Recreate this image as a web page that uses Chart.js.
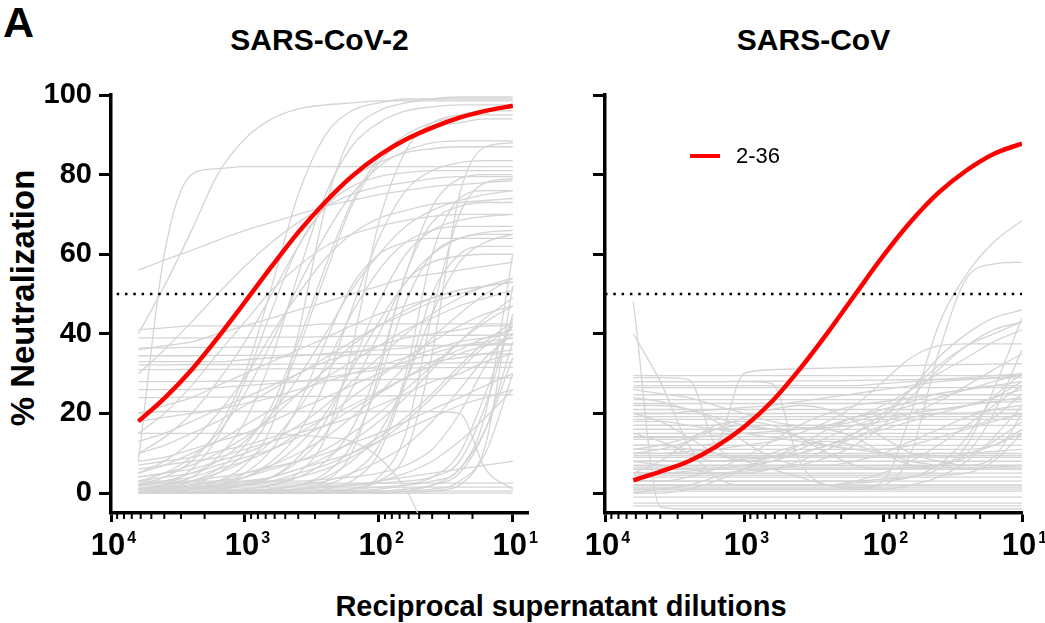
<!DOCTYPE html>
<html>
<head>
<meta charset="utf-8">
<script src="https://cdn.jsdelivr.net/npm/chart.js@4.4.1/dist/chart.umd.min.js"></script>
<style>
  body { margin: 0; background: #fff; width: 1045px; height: 623px; overflow: hidden; position: relative;
         font-family: "Liberation Sans", Arial, sans-serif; }
  canvas { position: absolute; top: 0; }
  .txt { position: absolute; font-weight: bold; color: #000; white-space: nowrap; }
</style>
</head>
<body>
<div class="txt" style="left:3px;top:1px;font-size:43px;line-height:43px;">A</div>
<div class="txt" style="left:111px;top:25px;width:417px;text-align:center;font-size:30px;line-height:30px;">SARS-CoV-2</div>
<div class="txt" style="left:605px;top:25px;width:417px;text-align:center;font-size:30px;line-height:30px;">SARS-CoV</div>
<div class="txt" style="left:22px;top:298px;font-size:33px;line-height:33px;transform:translate(-50%,-50%) rotate(-90deg);">% Neutralization</div>
<div class="txt" style="left:561px;top:592px;font-size:29px;line-height:29px;transform:translateX(-50%);">Reciprocal supernatant dilutions</div>
<canvas id="left" width="540" height="623" style="left:0"></canvas>
<canvas id="right" width="505" height="623" style="left:540px"></canvas>
<script>
// dilution series shared by every curve (reciprocal dilution)
var dilutions = [6250, 4000, 2500, 1600, 1000, 630, 400, 250, 160, 100, 63, 40, 25, 16, 10];
var xTicks = [10000, 1000, 100, 10];
var yTicks = [0, 20, 40, 60, 80, 100];
var cutoff = 50;

// highlighted sample 2-36
var cov2Red = [18, 23.8, 31, 39, 48, 57, 65.5, 73.2, 79.5, 84.8, 88.8, 91.8, 94.3, 96, 97.3];
var covRed = [3.2, 5.4, 8, 11.6, 16.6, 23, 31, 40.3, 49.7, 59.5, 68.2, 75.4, 81.1, 85.2, 87.8];

// all other samples, SARS-CoV-2
var cov2Gray = [
  [40, 52, 66, 80, 89, 94, 96.5, 97.5, 98, 98.5, 98.5, 98.5, 98.5, 98.5, 98.5],
  [8, 60, 80, 81.5, 82, 82, 82, 82, 82, 82, 82, 82, 82, 82, 82],
  [56, 58.5, 61, 63.5, 66, 68, 70, 72, 73.5, 75, 76, 77, 77.5, 78, 78.5],
  [2, 4, 8, 16, 30, 52, 75, 90, 96, 98, 99, 99, 99, 99, 99],
  [0, 1, 3, 6, 12, 22, 38, 57, 73, 84, 90, 93, 94.5, 95, 95],
  [1, 2, 4, 9, 18, 34, 55, 75, 87, 93, 96, 97, 97.5, 97.5, 97.5],
  [3, 5, 9, 15, 25, 38, 52, 65, 75, 82, 86, 88, 88.5, 88.5, 88.5],
  [10, 14, 20, 28, 38, 50, 62, 72, 79, 83, 85.5, 86.5, 87, 87, 87],
  [0, 0.5, 1, 2, 4, 8, 15, 28, 46, 64, 76, 81, 83, 83.5, 83.5],
  [0, 0, 0, 0.5, 1, 2, 4, 8, 16, 32, 55, 72, 79, 80, 80],
  [0, 0, 0, 0, 0, 0.5, 1, 2, 5, 12, 30, 60, 74, 76, 76],
  [5, 8, 13, 20, 29, 40, 50, 59, 65, 69, 71, 72.5, 73, 73.5, 74],
  [15, 20, 27, 35, 43, 51, 57, 62, 65, 67, 68.5, 69.5, 70, 70, 70],
  [0, 0, 1, 2, 4, 7, 12, 20, 31, 43, 53, 60, 64, 65.5, 66],
  [0, 0, 0, 0, 0.5, 1, 2, 4, 8, 15, 28, 45, 58, 63, 65],
  [30, 36, 43, 50, 57, 63, 68, 72, 75, 77, 78, 79, 79.5, 79.5, 79.5],
  [0, 2, 6, 14, 28, 46, 62, 72, 77, 79.5, 80.5, 81, 81, 81, 81],
  [0, 0, 0, 0, 0, 0, 0, 0.5, 1, 3, 10, 35, 75, 87, 88],
  [2, 3, 5, 8, 13, 20, 29, 40, 51, 60, 67, 71, 73.5, 75, 76],
  [0, 0, 0, 1, 2, 4, 9, 18, 32, 48, 60, 66, 68.5, 69.5, 70],
  [0, 1, 2, 5, 10, 20, 36, 55, 72, 83, 89, 92, 93, 94, 94],
  [0, 0, 1, 3, 7, 17, 40, 72, 90, 96, 98, 99, 99.5, 99.5, 99.5],
  [0, 0, 0, 0, 1, 2, 5, 14, 36, 68, 86, 93, 95, 96, 96],
  [41, 41.5, 42, 42, 42, 42, 42, 42.5, 42.5, 42.5, 42.5, 42.5, 42.5, 42.5, 42.5],
  [39, 39, 39, 39, 39, 39.2, 39.2, 39.3, 39.4, 39.5, 39.5, 39.6, 39.6, 39.7, 39.7],
  [36.5, 36.5, 36.6, 36.6, 36.7, 36.7, 36.8, 36.8, 36.9, 37, 37, 37.1, 37.1, 37.2, 37.2],
  [34.5, 34.5, 34.5, 34.6, 34.6, 34.6, 34.7, 34.7, 34.7, 34.8, 34.8, 34.8, 34.9, 34.9, 35],
  [32.2, 32.2, 32.3, 32.3, 32.3, 32.4, 32.4, 32.5, 32.5, 32.6, 32.6, 32.7, 32.7, 32.8, 32.8],
  [31, 31, 31, 31.1, 31.1, 31.2, 31.2, 31.3, 31.3, 31.4, 31.4, 31.5, 31.5, 31.6, 31.6],
  [24, 24, 24.1, 24.1, 24.2, 24.2, 24.3, 24.3, 24.4, 24.4, 24.5, 24.5, 24.6, 24.6, 24.7],
  [28, 28, 28, 28.1, 28.1, 28.2, 28.2, 28.3, 28.4, 28.5, 28.6, 28.7, 28.8, 28.9, 29],
  [20, 20.5, 20.5, 20.5, 20.5, 20.5, 20.5, 20.5, 20.5, 20.5, 20.5, 20.5, 20, 6, 1],
  [5, 7, 10, 13, 17, 21, 25, 29, 33, 37, 41, 44, 47, 49, 51],
  [2, 3, 4, 6, 8, 11, 15, 19, 24, 29, 34, 38, 42, 45, 47],
  [0, 1, 2, 3, 5, 7, 10, 14, 19, 25, 32, 39, 45, 50, 54],
  [10, 12, 15, 18, 22, 26, 30, 34, 38, 42, 45, 48, 50, 52, 53],
  [1, 1.5, 2, 3, 4, 6, 8, 11, 15, 20, 26, 32, 38, 43, 47],
  [3, 4, 5, 7, 9, 11, 14, 17, 21, 25, 29, 33, 36, 39, 41],
  [0, 0, 1, 1, 2, 3, 5, 7, 10, 14, 19, 25, 32, 38, 43],
  [8, 9, 11, 13, 15, 18, 21, 24, 27, 30, 33, 35, 37, 38, 39],
  [0, 0, 0, 0, 0.5, 1, 2, 3, 5, 8, 12, 18, 26, 34, 40],
  [13, 15, 18, 21, 24, 27, 30, 33, 35, 37, 39, 40, 41, 42, 42],
  [4, 5, 6, 8, 10, 13, 17, 22, 28, 34, 40, 45, 49, 52, 54],
  [0, 1, 1.5, 2, 3, 4, 6, 8, 10, 13, 16, 19, 22, 24, 26],
  [6, 7, 8, 9, 11, 13, 15, 17, 19, 22, 25, 28, 30, 33, 35],
  [0, 0, 0, 0, 0, 0, 0, 0, 0, 0, 0.5, 1, 3, 12, 52],
  [1, 1, 1, 1, 1, 1, 1, 1, 1, 1.5, 2, 3, 6, 20, 60],
  [2, 2, 2, 2, 2, 2, 2, 2, 2, 2.5, 3, 4, 8, 22, 45],
  [0, 0, 0, 0, 0, 0, 0, 0, 0.5, 1, 2, 4, 10, 25, 44],
  [0.5, 0.5, 0.5, 0.5, 0.5, 0.5, 0.5, 0.5, 0.5, 0.5, 1, 2, 5, 16, 38],
  [3, 3, 3, 3, 3, 3, 3, 3.5, 4, 5, 7, 11, 20, 32, 42],
  [0, 0, 0, 0, 0, 0, 0, 0, 0, 0, 0, 0, 0, 0, 0],
  [0.5, 0.5, 0.5, 0.5, 0.5, 0.5, 0.5, 0.5, 0.5, 0.5, 0.5, 0.5, 0.5, 0.5, 0.5],
  [1.5, 1.5, 1.5, 1.5, 1.5, 1.5, 1.5, 1.5, 1.5, 1.5, 1.5, 1.5, 1.5, 1.5, 1.5],
  [2.5, 2.5, 2.5, 2.5, 2.5, 2.5, 2.5, 2.5, 2.5, 2.5, 2.5, 2.5, 2.5, 2.5, 2.5],
  [0, 0, 0, 0, 0.2, 0.5, 1, 1.5, 2, 3, 4, 5, 6, 7, 8],
  [15, 15, 15, 15, 15, 15, 14.5, 14, 13, 9, 1, -10, -10, -10, -10],
  [33, 33, 33, 33, 33.5, 34, 34.5, 35, 35.5, 36, 36.5, 37, 37, 37.5, 37.5],
  [26, 26, 26, 26.5, 27, 27.5, 28, 29, 30, 31, 32, 33, 34, 35, 36],
  [18, 19, 20, 21, 22.5, 24, 26, 28, 30, 32, 34, 36, 38, 39, 40],
  [0, 0.5, 1, 1.5, 2.5, 4, 6, 9, 13, 18, 24, 31, 38, 44, 49],
  [1, 1, 1, 1.5, 2, 3, 4, 6, 9, 13, 18, 24, 31, 37, 42],
  [7, 8, 9, 10.5, 12, 14, 16.5, 19, 22, 25.5, 29, 32, 35, 37, 39],
  [20, 22, 24, 27, 30, 33, 36, 39, 42, 45, 47, 49, 51, 52, 53],
  [0, 0, 0, 0, 0, 0.5, 1, 1.5, 2, 3, 5, 8, 13, 19, 26],
  [2, 2.5, 3, 4, 5, 6.5, 8, 10, 12.5, 15, 18, 21, 24, 27, 30],
  [36, 37, 38, 40, 42, 44, 46, 48, 50, 52, 54, 55, 56, 57, 58],
  [4, 5, 7, 10, 14, 19, 25, 31, 37, 42, 46, 49, 51, 52, 53],
  [0, 0, 0, 0, 0, 0, 0, 0, 0, 0, 0, 0.5, 2, 10, 30],
  [0, 0, 0, 0, 0, 0, 0, 0, 0, 0, 0.5, 2, 6, 16, 34],
  [0, 0, 0, 0, 0, 0, 1, 3, 10, 30, 55, 68, 72, 73, 73],
  [0, 0, 0, 0, 0, 1, 2, 5, 12, 28, 48, 60, 64, 65, 65],
  [0, 0, 0, 0, 0, 0, 0, 1, 3, 10, 28, 50, 60, 62, 62],
  [0, 0, 1, 2, 5, 11, 22, 38, 52, 60, 63, 64, 64, 64, 64],
  [1, 2, 3, 5, 8, 13, 21, 32, 45, 56, 63, 66, 67, 67, 67],
  [0, 0, 0, 0, 0, 0, 0, 0, 1, 4, 15, 45, 70, 78, 79],
  [0, 0, 0, 1, 2, 4, 8, 15, 26, 40, 53, 58, 59.5, 60, 60]
];

// all other samples, SARS-CoV
var covGray = [
  [48, -3.5, -4, -4, -4, -4, -4, -4, -4, -4, -4, -4, -4, -4, -4],
  [40, 28, 12, 4, 2, 2, 2, 2, 2, 2, 2, 2, 2, 2, 2],
  [29, 29, 28.5, 12, 9, 9, 9, 9, 9, 9, 9.5, 10, 10, 10.5, 11],
  [28, 28, 28, 28, 28, 27.5, 8, 2, 1.5, 1.5, 1.5, 1.5, 1.5, 1.5, 1.5],
  [12, 12, 12, 12.5, 30, 31, 31.2, 31.4, 31.6, 31.8, 32, 32.2, 32.3, 32.4, 32.5],
  [1, 1, 1, 1, 1, 1, 1, 1, 1, 3, 20, 42, 55, 63, 68.5],
  [1.5, 1.5, 1.5, 1.5, 1.5, 1.5, 1.5, 1.5, 1.5, 2, 10, 35, 54, 57.5, 58],
  [5, 5, 5.5, 6, 7, 8, 10, 12, 15, 19, 26, 34, 40, 44, 46],
  [10, 10, 10.5, 11, 12, 13, 15, 18, 22, 28, 34, 37, 37.5, 37.5, 37.5],
  [8, 8, 8, 8, 8.5, 9, 10, 12, 15, 20, 26, 32, 37, 40, 43],
  [14, 14, 14, 14.5, 15, 15.5, 16, 17, 19, 22, 26, 30, 34, 38, 41],
  [3, 3, 3, 3, 3, 3, 3, 3, 3, 3.5, 4, 6, 12, 26, 44],
  [6, 6, 6, 6, 6, 6, 6, 6, 6, 6, 6.5, 7, 10, 20, 36],
  [2, 2, 2, 2, 2, 2, 2, 2, 2.5, 3, 4, 7, 14, 24, 30],
  [29.5, 29.5, 29.5, 29.5, 29.5, 29.5, 29.5, 29.5, 29.5, 29.5, 29.5, 29.5, 29.5, 29.5, 29.5],
  [28, 28, 28, 28, 28.1, 28.1, 28.2, 28.2, 28.3, 28.4, 28.5, 28.6, 28.7, 28.8, 29],
  [26.5, 26.5, 26.5, 26.5, 26.5, 26.5, 26.5, 26.5, 26.5, 26.5, 26.5, 26.5, 26.5, 26.5, 26.5],
  [24.7, 24.7, 24.7, 24.7, 24.7, 24.7, 24.7, 24.7, 24.7, 24.7, 24.7, 24.7, 24.7, 24.7, 24.7],
  [22.5, 22.5, 22.5, 22.5, 22.5, 22.5, 22.5, 22.5, 22.5, 22.5, 22.5, 22.5, 22.6, 22.8, 23],
  [21, 21, 21, 21, 21, 21, 21, 21, 21, 21, 21, 21, 22, 24, 28],
  [20, 20, 20, 20, 20, 20, 20, 20, 20, 20, 20, 20, 20, 20, 20],
  [18.5, 18.5, 18.5, 18.5, 18.5, 18.5, 18.5, 18.5, 18.5, 18.5, 18.5, 18.5, 18.5, 18.5, 18.5],
  [17, 17, 17, 17, 17, 17, 17, 17, 17, 17, 17, 17, 17, 17, 17],
  [16, 16, 16, 16, 16, 16, 16, 16, 16, 16, 16, 16, 16.5, 19, 25],
  [15, 15, 15, 15, 15, 15, 15, 15, 15, 15, 15, 15, 15, 15, 15],
  [13.5, 13.5, 13.5, 13.5, 13.5, 13.5, 13.5, 13.5, 13.5, 13.5, 13.5, 13.5, 13.5, 13.5, 13.5],
  [12, 12, 12, 12, 12, 12, 12, 12, 12, 12, 12, 12, 12, 12, 12],
  [11, 11, 11, 11, 11, 11, 11, 11, 11, 11, 11, 11, 11, 12, 16],
  [10, 10, 10, 10, 10, 10, 10, 10, 10, 10, 10, 10, 10, 10, 10],
  [9, 9, 9, 9, 9, 9, 9, 9, 9, 9, 9, 9, 9, 9, 9],
  [8, 8, 8, 8, 8, 8, 8, 8, 8, 8, 8, 8, 8, 8, 8],
  [7, 7, 7, 7, 7, 7, 7, 7, 7, 7, 7, 7, 7, 9, 20],
  [6, 6, 6, 6, 6, 6, 6, 6, 6, 6, 6, 6, 6, 6, 6],
  [5, 5, 5, 5, 5, 5, 5, 5, 5, 5, 5, 5, 5, 5, 5],
  [4, 4, 4, 4, 4, 4, 4, 4, 4, 4, 4, 4, 4, 4, 4],
  [3, 3, 3, 3, 3, 3, 3, 3, 3, 3, 3, 3, 3, 3, 3],
  [2, 2, 2, 2, 2, 2, 2, 2, 2, 2, 2, 2, 2, 2, 2],
  [0.5, 0.5, 0.5, 0.5, 0.5, 0.5, 0.5, 0.5, 0.5, 0.5, 0.5, 0.5, 0.5, 0.5, 0.5],
  [-1, -1, -1, -1, -1, -1, -1, -1, -1, -1, -1, -1, -1, -1, -1],
  [-2.5, -2.5, -2.5, -2.5, -2.5, -2.5, -2.5, -2.5, -2.5, -2.5, -2.5, -2.5, -2.5, -2.5, -2.5],
  [-3.2, -3.2, -3.2, -3.2, -3.2, -3.2, -3.2, -3.2, -3.2, -3.2, -3.2, -3.2, -3.2, -3.2, -3.2],
  [20, 18, 14, 10, 8, 9, 12, 16, 19, 20, 20, 20, 20, 20, 20],
  [5, 8, 13, 17, 18, 17, 14, 10, 7, 6, 6, 7, 9, 13, 18],
  [15, 13, 10, 8, 8, 9, 11, 14, 17, 19, 20, 21, 22, 23, 24],
  [22, 22, 21, 18, 13, 9, 7, 7, 8, 10, 13, 16, 19, 21, 22],
  [10, 11, 13, 16, 19, 21, 22, 21, 18, 14, 10, 8, 7, 7, 7],
  [3, 3, 4, 6, 9, 13, 17, 20, 22, 23, 24, 25, 26, 27, 28],
  [18, 18, 17, 16, 15, 14, 13, 12, 11, 10, 9, 9, 10, 12, 15],
  [8, 7, 6, 5, 5, 6, 8, 11, 14, 17, 19, 20, 20, 21, 21],
  [26, 25, 24, 22, 20, 18, 17, 17, 18, 20, 22, 24, 26, 28, 30],
  [0, 1, 2, 4, 6, 8, 10, 12, 14, 16, 18, 20, 22, 24, 26],
  [12, 12, 11, 10, 8, 6, 4, 2, 1, 1, 2, 4, 8, 14, 22],
  [17, 17, 17, 17, 17, 17, 16.5, 16, 14, 10, 7, 6, 6, 6.5, 7],
  [20, 20, 20.5, 21, 21.5, 22, 23, 24, 25, 26, 27, 28, 28.5, 29, 29.5],
  [27, 27, 27, 27, 27, 27, 27, 27, 27, 27.5, 28, 28.5, 29, 29.5, 30],
  [23.5, 23.5, 23.5, 23.5, 23.5, 23.5, 23.5, 23.5, 23.5, 23.5, 23.5, 23.5, 23.5, 23.5, 23.5],
  [19.2, 19.2, 19.2, 19.2, 19.2, 19.2, 19.2, 19.2, 19.2, 19.2, 19.2, 19.2, 19.2, 19.2, 19.2],
  [14.2, 14.2, 14.2, 14.2, 14.2, 14.2, 14.2, 14.2, 14.2, 14.2, 14.2, 14.2, 14.2, 14.2, 14.2],
  [9.5, 9.5, 9.5, 9.5, 9.5, 9.5, 9.5, 9.5, 9.5, 9.5, 9.5, 9.5, 9.5, 9.5, 9.5],
  [6.5, 6.5, 6.5, 6.5, 6.5, 6.5, 6.5, 6.5, 6.5, 6.5, 6.5, 6.5, 6.5, 6.5, 6.5],
  [4.5, 4.5, 4.5, 4.5, 4.5, 4.5, 4.5, 4.5, 4.5, 4.5, 4.5, 4.5, 5, 8, 15],
  [1, 1, 1, 1, 1, 1, 1, 1, 1, 1, 1, 1, 1, 1, 1],
  [11, 12, 14, 16, 17, 16, 14, 12, 11, 11, 12, 14, 16, 18, 20],
  [24, 23, 21, 19, 17, 16, 16, 17, 19, 21, 23, 25, 26, 27, 27],
  [2, 2, 2, 2, 2, 2, 2, 2, 3, 5, 8, 12, 17, 22, 27],
  [0, 0, 1, 3, 6, 10, 12, 13, 12, 10, 8, 7, 6, 6, 6],
  [5, 5, 5, 5, 5.5, 6, 7, 9, 12, 17, 24, 31, 37, 41, 43],
  [16, 16, 16, 16, 16, 16, 16, 16.5, 17, 18, 20, 23, 27, 31, 35]
];

var FONT = '"Liberation Sans", Arial, sans-serif';

function points(values) {
  return values.map(function (v, i) { return { x: dilutions[i], y: v }; });
}

// minor ticks on the log axis and the 10^n labels
var axisDecor = {
  id: 'axisDecor',
  afterDraw: function (chart) {
    var ctx = chart.ctx, xs = chart.scales.x, bottom = chart.chartArea.bottom;
    ctx.save();
    ctx.strokeStyle = '#000';
    ctx.lineWidth = 2;
    for (var e = 1; e < 4; e++) {
      for (var m = 2; m < 10; m++) {
        var px = xs.getPixelForValue(m * Math.pow(10, e));
        ctx.beginPath();
        ctx.moveTo(px, bottom);
        ctx.lineTo(px, bottom + 6);
        ctx.stroke();
      }
    }
    ctx.fillStyle = '#000';
    ctx.textAlign = 'left';
    ctx.textBaseline = 'alphabetic';
    xTicks.forEach(function (v) {
      var px = xs.getPixelForValue(v);
      ctx.font = 'bold 31px ' + FONT;
      var w = ctx.measureText('10').width;
      ctx.fillText('10', px - w / 2 - 3, 555);
      ctx.font = 'bold 16px ' + FONT;
      ctx.fillText(String(Math.round(Math.log10(v))), px + w / 2 - 1, 543);
    });
    ctx.restore();
  }
};

var legendDecor = {
  id: 'legendDecor',
  afterDraw: function (chart) {
    if (!chart.options.plugins.legendDecor.show) return;
    var ctx = chart.ctx, a = chart.chartArea;
    ctx.save();
    ctx.strokeStyle = '#ff0000';
    ctx.lineWidth = 4;
    ctx.beginPath();
    ctx.moveTo(a.left + 85, a.top + 61);
    ctx.lineTo(a.left + 115, a.top + 61);
    ctx.stroke();
    ctx.fillStyle = '#000';
    ctx.font = '22px ' + FONT;
    ctx.fillText('2-36', a.left + 131, a.top + 68);
    ctx.restore();
  }
};

function makeChart(id, red, gray, cfg) {
  var datasets = [
    { data: points(red), borderColor: '#ff0000', borderWidth: 4.5, pointRadius: 0,
      cubicInterpolationMode: 'monotone' },
    { data: [{ x: 10000, y: cutoff }, { x: 10, y: cutoff }], borderColor: '#000', borderWidth: 2.5,
      borderDash: [2.5, 5.8], borderDashOffset: cfg.dashOffset, pointRadius: 0 }
  ];
  gray.forEach(function (g) {
    datasets.push({ data: points(g), borderColor: '#d4d4d4', borderWidth: 1.3, pointRadius: 0,
      cubicInterpolationMode: 'monotone' });
  });
  return new Chart(document.getElementById(id), {
    type: 'line',
    data: { datasets: datasets },
    plugins: [axisDecor, legendDecor],
    options: {
      responsive: false,
      animation: false,
      events: [],
      layout: { padding: { top: 95, right: cfg.padRight, bottom: 0, left: 0 } },
      plugins: { legend: { display: false }, tooltip: { enabled: false }, legendDecor: { show: cfg.legend } },
      scales: {
        x: {
          type: 'logarithmic', reverse: true, min: cfg.xMin, max: 10000,
          grid: { drawOnChartArea: false, tickLength: 9, tickWidth: 3, tickColor: '#000' },
          border: { color: '#000', width: 3.5 },
          ticks: { display: false },
          afterBuildTicks: function (s) { s.ticks = xTicks.map(function (v) { return { value: v }; }); },
          afterFit: function (s) { s.height = 110; }
        },
        y: {
          min: -5, max: 100,
          grid: { drawOnChartArea: false, tickLength: 12, tickWidth: 3, tickColor: '#000' },
          border: { color: '#000', width: 3.5 },
          ticks: { display: cfg.yLabels, color: '#000', padding: 7, font: { family: FONT, size: 29, weight: 'bold' } },
          afterBuildTicks: function (s) { s.ticks = yTicks.map(function (v) { return { value: v }; }); },
          afterFit: function (s) { s.width = cfg.yWidth; }
        }
      }
    }
  });
}

makeChart('left', cov2Red, cov2Gray, { xMin: 7.7, padRight: 12, yWidth: 111, yLabels: true, legend: false, dashOffset: 2.6 });
makeChart('right', covRed, covGray, { xMin: 10, padRight: 23, yWidth: 65, yLabels: false, legend: true, dashOffset: 0 });
</script>
</body>
</html>
